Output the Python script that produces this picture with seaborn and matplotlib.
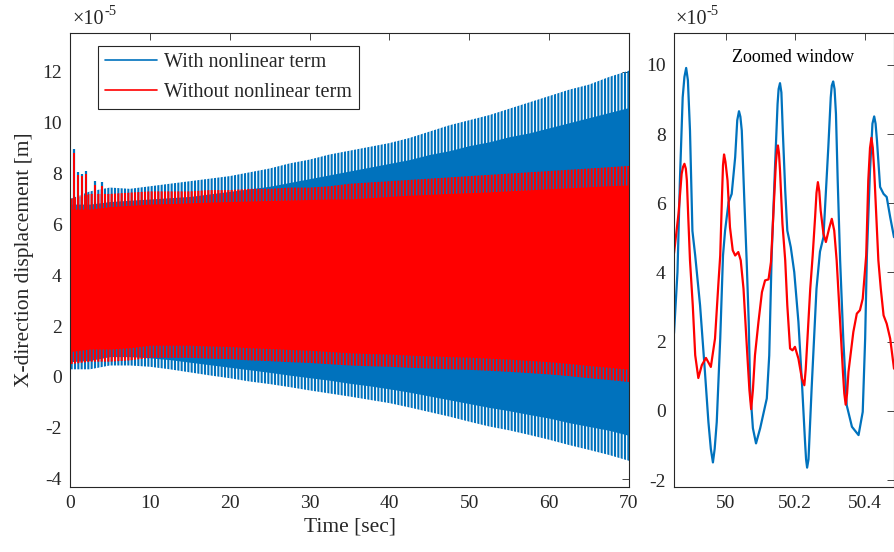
import numpy as np
import pandas as pd
import matplotlib
matplotlib.use("Agg")
import matplotlib.pyplot as plt
import seaborn as sns
from matplotlib.lines import Line2D
from matplotlib.ticker import FuncFormatter

# ---------------- data (values in units of 1e-5 m) ----------------
env_t = [0, 2.5, 5, 7.5, 10, 12.5, 15, 17.5, 20, 22.5, 25, 27.5, 30, 32.5, 35,
         37.5, 40, 42.5, 45, 47.5, 50, 52.5, 55, 57.5, 60, 62.5, 65, 67.5, 70]

blue_tip_hi = [7.0, 7.3, 7.45, 7.4, 7.5, 7.6, 7.7, 7.8, 7.9, 8.05, 8.2, 8.4, 8.55, 8.75, 8.9,
               9.05, 9.2, 9.4, 9.65, 9.9, 10.1, 10.3, 10.55, 10.8, 11.05, 11.3, 11.5, 11.8, 12.05]
blue_body_hi = [6.8, 6.8, 6.9, 6.95, 7.0, 7.05, 7.1, 7.2, 7.3, 7.4, 7.5, 7.65, 7.8, 7.95, 8.1,
                8.25, 8.4, 8.55, 8.75, 8.9, 9.1, 9.25, 9.45, 9.6, 9.8, 10.0, 10.2, 10.4, 10.6]
blue_tip_lo = [0.3, 0.3, 0.45, 0.45, 0.4, 0.3, 0.18, 0.06, -0.05, -0.18, -0.28, -0.4, -0.53, -0.65, -0.77,
               -0.9, -1.03, -1.2, -1.38, -1.56, -1.76, -1.95, -2.1, -2.28, -2.47, -2.68, -2.87, -3.07, -3.3]
blue_body_lo = [0.6, 0.65, 0.8, 0.8, 0.75, 0.68, 0.58, 0.48, 0.38, 0.28, 0.18, 0.07, -0.03, -0.13, -0.25,
                -0.35, -0.47, -0.6, -0.75, -0.9, -1.05, -1.2, -1.33, -1.48, -1.62, -1.8, -1.95, -2.1, -2.3]

red_tip_hi = [7.0, 7.2, 7.2, 7.25, 7.3, 7.3, 7.3, 7.35, 7.35, 7.4, 7.4, 7.45, 7.45, 7.5, 7.6,
              7.65, 7.7, 7.75, 7.8, 7.85, 7.9, 7.95, 8.0, 8.05, 8.1, 8.15, 8.2, 8.25, 8.3]
red_body_hi = [6.6, 6.6, 6.7, 6.75, 6.8, 6.82, 6.85, 6.88, 6.9, 6.92, 6.94, 6.96, 6.98, 7.0, 7.0,
               7.05, 7.1, 7.15, 7.18, 7.22, 7.25, 7.28, 7.32, 7.36, 7.4, 7.44, 7.48, 7.52, 7.55]
red_tip_lo = [0.5, 0.6, 0.6, 0.65, 0.75, 0.75, 0.75, 0.72, 0.7, 0.65, 0.62, 0.58, 0.55, 0.5, 0.45,
              0.42, 0.4, 0.36, 0.33, 0.3, 0.28, 0.24, 0.2, 0.15, 0.1, 0.03, -0.05, -0.12, -0.2]
red_body_lo = [1.0, 1.1, 1.1, 1.15, 1.25, 1.25, 1.25, 1.22, 1.2, 1.15, 1.12, 1.08, 1.05, 1.0, 0.95,
               0.92, 0.9, 0.86, 0.83, 0.8, 0.78, 0.74, 0.7, 0.65, 0.6, 0.53, 0.45, 0.38, 0.3]

# early transient spikes
spike_t = [0.46, 1.0, 1.5, 1.95, 3.1, 4.0]
spike_blue = [8.95, 8.05, 8.0, 8.1, 7.7, 7.65]
spike_red = [8.8, 7.95, 7.9, 8.0, 7.55, 7.5]

# zoomed window
zoom_t_blue = [49.851, 49.861, 49.868, 49.876, 49.881, 49.886, 49.891, 49.897, 49.904, 49.912,
               49.926, 49.940, 49.950, 49.957, 49.963, 49.968, 49.974, 49.984, 49.992, 49.998,
               50.008, 50.017, 50.027, 50.033, 50.038, 50.042, 50.046, 50.053, 50.060, 50.066,
               50.070, 50.078, 50.087, 50.099, 50.118, 50.125, 50.132, 50.142, 50.149, 50.152,
               50.156, 50.160, 50.164, 50.171, 50.177, 50.187, 50.197, 50.209, 50.219, 50.228,
               50.231, 50.234, 50.238, 50.247, 50.261, 50.271, 50.281, 50.295, 50.302, 50.305,
               50.309, 50.313, 50.317, 50.322, 50.329, 50.338, 50.348, 50.363, 50.382, 50.394,
               50.401, 50.406, 50.415, 50.422, 50.427, 50.431, 50.435, 50.444, 50.454, 50.463,
               50.473, 50.484]
zoom_v_blue = [2.24, 4.01, 6.66, 9.06, 9.65, 9.91, 9.55, 8.1, 5.2, 4.49,
               3.05, 1.13, -0.32, -1.1, -1.49, -1.1, -0.32, 2.09, 4.49, 5.21,
               6.03, 6.27, 7.33, 8.4, 8.66, 8.5, 8.1, 6.18, 4.35, 2.57,
               0.65, -0.5, -0.94, -0.5, 0.36, 1.6, 4.49, 7.14, 8.87, 9.3,
               9.47, 9.2, 8.1, 6.37, 5.21, 4.73, 4.01, 2.57, 0.84, -0.89,
               -1.4, -1.64, -1.4, 0.65, 3.53, 4.6, 5.02, 7.62, 9.06, 9.4,
               9.52, 9.3, 8.58, 6.66, 4.35, 2.09, 0.16, -0.46, -0.70, -0.03,
               2.09, 4.49, 6.95, 8.3, 8.51, 8.3, 7.81, 6.47, 6.27, 6.18,
               5.6, 5.02]

zoom_t_red = [49.851, 49.864, 49.873, 49.877, 49.881, 49.885, 49.888, 49.892, 49.897, 49.905,
              49.912, 49.921, 49.931, 49.943, 49.957, 49.969, 49.979, 49.984, 49.989, 49.992,
              49.995, 49.999, 50.005, 50.012, 50.020, 50.027, 50.036, 50.043, 50.051, 50.062,
              50.068, 50.073, 50.078, 50.084, 50.094, 50.104, 50.113, 50.123, 50.130, 50.137,
              50.144, 50.147, 50.150, 50.153, 50.156, 50.163, 50.171, 50.177, 50.185, 50.192,
              50.199, 50.209, 50.219, 50.226, 50.230, 50.235, 50.243, 50.250, 50.257, 50.261,
              50.265, 50.269, 50.273, 50.281, 50.288, 50.297, 50.305, 50.312, 50.319, 50.329,
              50.337, 50.341, 50.345, 50.349, 50.353, 50.367, 50.377, 50.386, 50.394, 50.404,
              50.410, 50.415, 50.419, 50.423, 50.427, 50.435, 50.439, 50.446, 50.454, 50.463,
              50.473, 50.484]
zoom_v_red = [4.55, 5.7, 6.85, 7.05, 7.14, 7.0, 6.66, 5.6, 4.35, 3.05,
              1.61, 0.95, 1.32, 1.53, 1.27, 2.09, 3.72, 4.49, 6.18, 7.1,
              7.41, 7.2, 6.66, 5.31, 4.64, 4.49, 4.59, 4.35, 3.53, 1.61,
              0.6, 0.05, 0.6, 1.61, 2.57, 3.43, 3.77, 3.8, 4.3, 5.7,
              7.14, 7.5, 7.67, 7.45, 6.95, 5.41, 4.35, 3.05, 1.8, 1.75,
              1.85, 1.51, 0.93, 0.74, 1.2, 2.09, 3.53, 4.49, 5.6, 6.3,
              6.61, 6.35, 5.79, 5.12, 4.88, 5.26, 5.55, 5.21, 4.35, 2.57,
              1.13, 0.5, 0.18, 0.5, 1.13, 2.28, 2.81, 2.91, 3.24, 4.49,
              6.66, 7.6, 7.89, 7.6, 6.95, 5.21, 4.35, 3.53, 2.76, 2.52,
              2.09, 1.22]

labels = ["With nonlinear term", "Without nonlinear term"]
SCALE = 1e-5

# ---------------- style ----------------
sns.set_theme(style="white")
plt.rcParams["font.family"] = ["Liberation Serif", "DejaVu Serif"]
plt.rcParams["axes.unicode_minus"] = False
plt.rcParams["hatch.linewidth"] = 1.5
DARK = "#262626"
BLUE = "#0072BD"
RED = "#FF0000"

fig = plt.figure(figsize=(8.94, 5.52), dpi=100)
ax = fig.add_axes([70 / 894, 65 / 552, 559 / 894, 454 / 552])
ax2 = fig.add_axes([674 / 894, 65 / 552, 220 / 894, 454 / 552])


def sc(a):
    return np.asarray(a, dtype=float) * SCALE


t = np.asarray(env_t, dtype=float)

# blue band (with nonlinear term): solid body + spiky fringe
ax.fill_between(t, sc(blue_tip_lo), sc(blue_tip_hi), facecolor="none", edgecolor=BLUE,
                hatch="|||||", lw=0)
ax.fill_between(t, sc(blue_body_lo), sc(blue_body_hi), color=BLUE, lw=0)
ax.vlines(spike_t, sc([6.6] * len(spike_t)), sc(spike_blue), color=BLUE, lw=1.6)
# red band (without nonlinear term)
ax.fill_between(t, sc(red_tip_lo), sc(red_tip_hi), facecolor="none", edgecolor=RED,
                hatch="|||||", lw=0)
ax.fill_between(t, sc(red_body_lo), sc(red_body_hi), color=RED, lw=0)
ax.vlines(spike_t, sc([6.5] * len(spike_t)), sc(spike_red), color=RED, lw=1.4)

ax.set_xlim(0, 70)
ax.set_ylim(-4.33e-5, 13.53e-5)
ax.set_xticks(range(0, 71, 10))
ax.set_yticks(sc(range(-4, 13, 2)))
ax.set_xlabel("Time [sec]", fontsize=15.5, color=DARK, labelpad=4)
ax.set_ylabel("X-direction displacement [m]", fontsize=15.5, color=DARK, labelpad=6)

handles = [Line2D([], [], color=BLUE, lw=1.2), Line2D([], [], color=RED, lw=1.2)]
leg = ax.legend(handles, labels, loc="upper left", bbox_to_anchor=(0.05, 0.972),
                borderaxespad=0, fontsize=14.5, frameon=True, fancybox=False,
                edgecolor=DARK, framealpha=1, handlelength=2.6, handletextpad=0.35,
                borderpad=0.35, labelspacing=0.55)
leg.get_frame().set_linewidth(0.8)

# zoomed window
dfb = pd.DataFrame({"t": zoom_t_blue, "v": sc(zoom_v_blue)})
dfr = pd.DataFrame({"t": zoom_t_red, "v": sc(zoom_v_red)})
sns.lineplot(data=dfb, x="t", y="v", ax=ax2, color=BLUE, lw=1.6, sort=False, estimator=None)
sns.lineplot(data=dfr, x="t", y="v", ax=ax2, color=RED, lw=1.6, sort=False, estimator=None)
ax2.set_xlim(49.851, 50.484)
ax2.set_ylim(-2.2e-5, 10.92e-5)
ax2.set_xticks([50, 50.2, 50.4])
ax2.set_xticklabels(["50", "50.2", "50.4"])
ax2.set_yticks(sc(range(-2, 11, 2)))
ax2.set_xlabel("")
ax2.set_ylabel("")
ax2.text(0.54, 0.945, "Zoomed window", transform=ax2.transAxes, ha="center", va="center",
         fontsize=13, color="black")

yfmt = FuncFormatter(lambda v, p: "%g" % round(v / SCALE, 6))
for a in (ax, ax2):
    a.yaxis.set_major_formatter(yfmt)
    a.tick_params(direction="in", top=True, right=True, length=5, width=0.6,
                  labelsize=14, colors=DARK, pad=6)
    for s in a.spines.values():
        s.set_color(DARK)
        s.set_linewidth(0.8)
    base = a.text(0.005, 1.008, "\u00d710", transform=a.transAxes, ha="left", va="bottom",
                  fontsize=14.5, color=DARK)
    a.annotate("-5", xy=(1.0, 0.62), xycoords=base, ha="left", va="bottom",
               fontsize=10.5, color=DARK)

fig.savefig("out.png", dpi=100)
